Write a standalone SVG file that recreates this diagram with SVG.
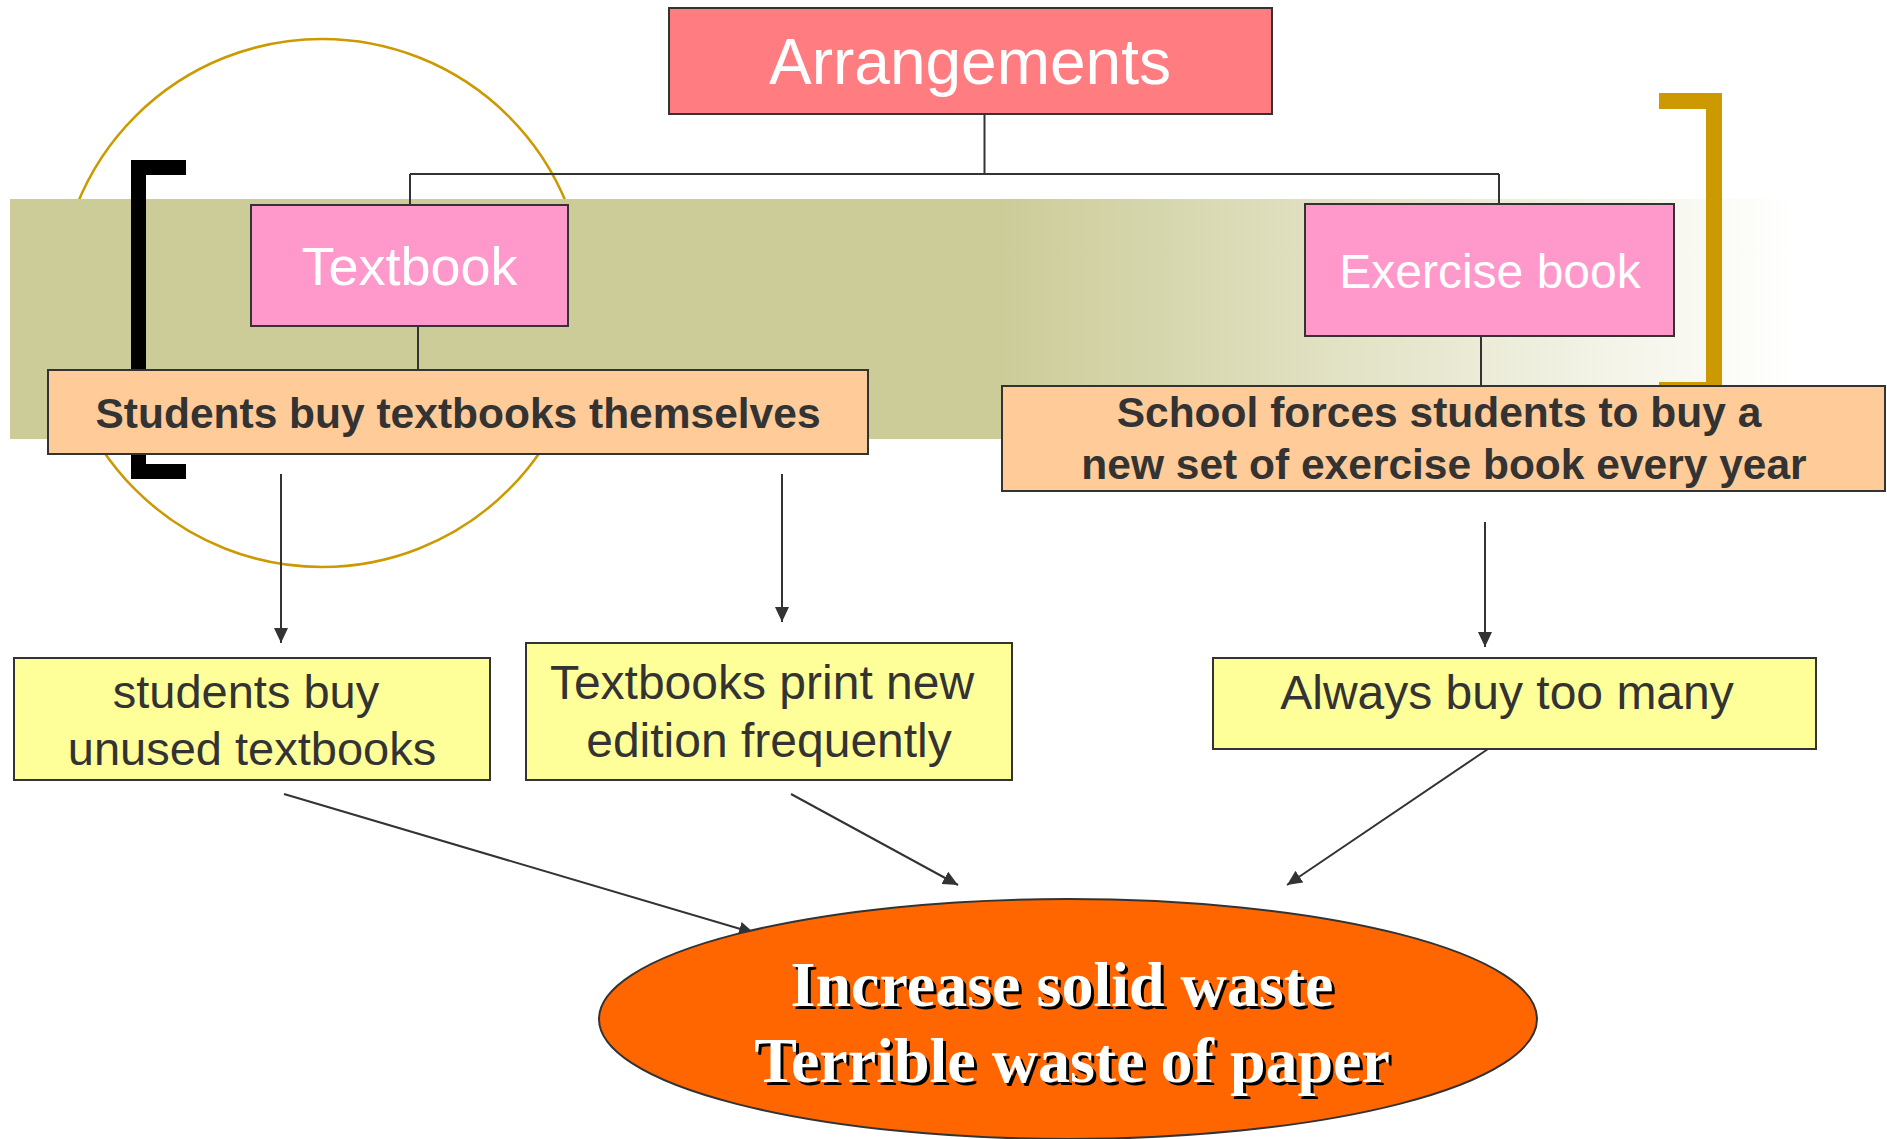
<svg xmlns="http://www.w3.org/2000/svg" width="1887" height="1139" viewBox="0 0 1887 1139">
  <defs>
    <linearGradient id="band" x1="10" y1="0" x2="1793" y2="0" gradientUnits="userSpaceOnUse">
      <stop offset="0" stop-color="#CCCC99"/>
      <stop offset="0.555" stop-color="#CCCC99"/>
      <stop offset="1" stop-color="#FFFFFF"/>
    </linearGradient>
    <marker id="arr" markerUnits="userSpaceOnUse" markerWidth="16" markerHeight="14" refX="15" refY="7" orient="auto">
      <path d="M0,0 L15,7 L0,14 Z" fill="#333333"/>
    </marker>
    <style>
      .box { stroke: #333333; stroke-width: 2; }
      .conn { stroke: #333333; stroke-width: 2; fill: none; }
      .arrow { stroke: #333333; stroke-width: 2; fill: none; marker-end: url(#arr); }
      .sans { font-family: "Liberation Sans", Arial, sans-serif; }
      .white { fill: #FFFFFF; }
      .dark { fill: #333333; }
      .bold { font-weight: bold; }
      .mid { text-anchor: middle; }
      .serif { font-family: "Liberation Serif", "Times New Roman", serif; font-weight: bold; font-size: 64px; text-anchor: middle; }
    </style>
  </defs>

  <!-- background decoration -->
  <g id="decor">
    <circle cx="322" cy="303" r="264" fill="none" stroke="#CC9900" stroke-width="2.5"/>
    <rect x="10" y="199" width="1783" height="240" fill="url(#band)"/>
    <path d="M131,160 H186 V175 H146 V464 H186 V479 H131 Z" fill="#000000"/>
    <path d="M1659,93 H1722 V398 H1659 V382 H1706 V109 H1659 Z" fill="#CC9900"/>
  </g>

  <g id="connectors">
    <path class="conn" d="M984.5,114 V174 M410,174 H1499 M410,174 V205 M1499,174 V204"/>
    <path class="conn" d="M418,326 V370"/>
    <path class="conn" d="M1481,337 V386"/>
    <line class="arrow" x1="281" y1="474" x2="281" y2="643"/>
    <line class="arrow" x1="782" y1="474" x2="782" y2="622"/>
    <line class="arrow" x1="1485" y1="522" x2="1485" y2="647"/>
    <line class="arrow" x1="284" y1="794" x2="754" y2="933"/>
    <line class="arrow" x1="791" y1="794" x2="958" y2="885"/>
    <line class="arrow" x1="1488" y1="749" x2="1287" y2="885"/>
  </g>

  <g id="arrangements">
    <rect class="box" x="669" y="8" width="603" height="106" fill="#FF7C80"/>
    <text class="sans white mid" x="970" y="84" font-size="64">Arrangements</text>
  </g>

  <g id="textbook">
    <rect class="box" x="251" y="205" width="317" height="121" fill="#FF99CC"/>
    <text class="sans white mid" x="409.5" y="285" font-size="54">Textbook</text>
  </g>

  <g id="exercise-book">
    <rect class="box" x="1305" y="204" width="369" height="132" fill="#FF99CC"/>
    <text class="sans white mid" x="1490" y="288" font-size="48">Exercise book</text>
  </g>

  <g id="students-buy">
    <rect class="box" x="48" y="370" width="820" height="84" fill="#FFCC99"/>
    <text class="sans dark bold mid" x="458" y="428" font-size="42.5">Students buy textbooks themselves</text>
  </g>

  <g id="school-forces">
    <rect class="box" x="1002" y="386" width="883" height="105" fill="#FFCC99"/>
    <text class="sans dark bold mid" x="1439" y="427" font-size="42.5">School forces students to buy a</text>
    <text class="sans dark bold mid" x="1444" y="479" font-size="42.5">new set of exercise book every year</text>
  </g>

  <g id="unused-textbooks">
    <rect class="box" x="14" y="658" width="476" height="122" fill="#FFFF99"/>
    <text class="sans dark mid" x="246" y="708" font-size="47">students buy</text>
    <text class="sans dark mid" x="252" y="765" font-size="47">unused textbooks</text>
  </g>

  <g id="new-edition">
    <rect class="box" x="526" y="643" width="486" height="137" fill="#FFFF99"/>
    <text class="sans dark mid" x="762" y="699" font-size="48">Textbooks print new</text>
    <text class="sans dark mid" x="769" y="757" font-size="48">edition frequently</text>
  </g>

  <g id="buy-too-many">
    <rect class="box" x="1213" y="658" width="603" height="91" fill="#FFFF99"/>
    <text class="sans dark mid" x="1507" y="709" font-size="48">Always buy too many</text>
  </g>

  <g id="waste">
    <ellipse cx="1068" cy="1019" rx="469" ry="120" fill="#FF6600" stroke="#333333" stroke-width="2"/>
    <text class="serif" x="1065" y="1009" fill="#000000">Increase solid waste</text>
    <text class="serif" x="1062" y="1006" fill="#FFFFFF">Increase solid waste</text>
    <text class="serif" x="1075" y="1085" fill="#000000">Terrible waste of paper</text>
    <text class="serif" x="1072" y="1082" fill="#FFFFFF">Terrible waste of paper</text>
  </g>
</svg>
